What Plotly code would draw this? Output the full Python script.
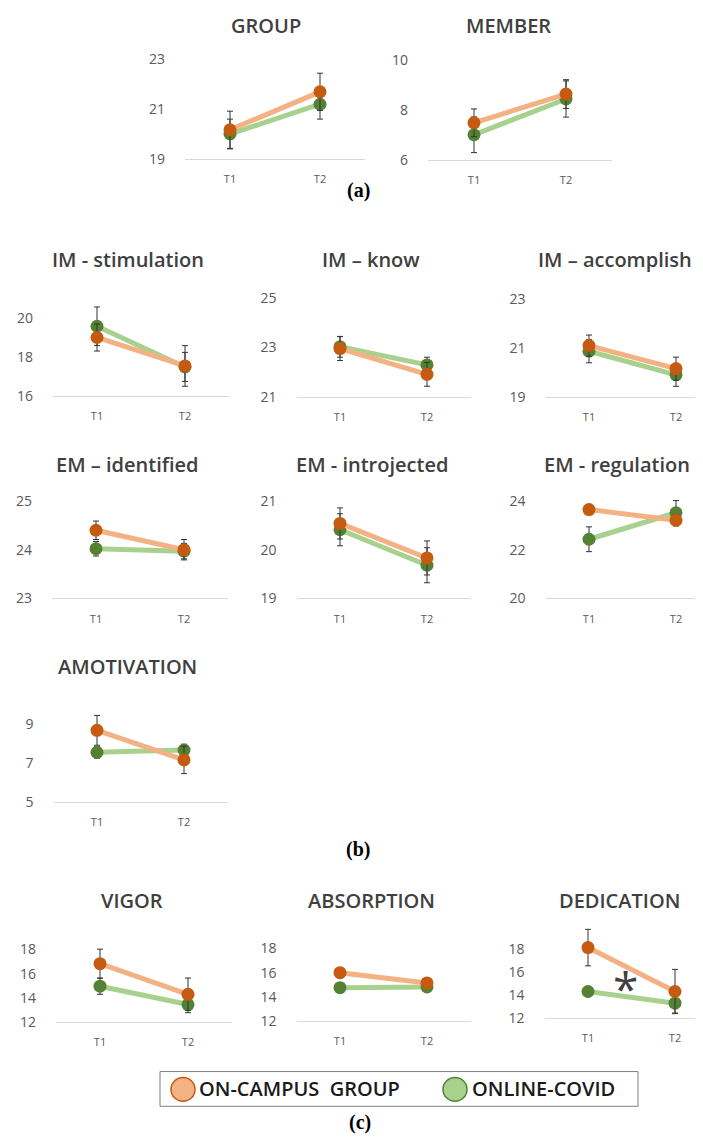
import plotly.graph_objects as go

# ---------------- data ----------------
TITLES = ["GROUP", "MEMBER", "IM - stimulation", "IM – know", "IM – accomplish",
          "EM – identified", "EM - introjected", "EM - regulation", "AMOTIVATION",
          "VIGOR", "ABSORPTION", "DEDICATION"]
TIMES = ["T1", "T2"]
SERIES_NAMES = ["ON-CAMPUS  GROUP", "ONLINE-COVID"]
ON_CAMPUS = [[20.17, 21.70], [7.49, 8.65], [19.02, 17.55], [22.95, 21.91], [21.09, 20.15],
             [24.40, 24.00], [20.54, 19.83], [23.65, 23.21], [8.69, 7.16],
             [16.83, 14.29], [16.00, 15.15], [18.17, 14.32]]
ON_CAMPUS_ERR = [[0.75, 0.75], [0.56, 0.58], [0.70, 1.05], [0.48, 0.48], [0.43, 0.47],
                 [0.19, 0.21], [0.32, 0.35], [0.15, 0.23], [0.77, 0.71],
                 [1.20, 1.35], [0.30, 0.30], [1.60, 1.94]]
ONLINE = [[20.00, 21.20], [7.01, 8.45], [19.60, 17.50], [23.02, 22.29], [20.86, 19.90],
          [24.02, 23.97], [20.41, 19.68], [22.43, 23.52], [7.55, 7.67],
          [14.96, 13.44], [14.76, 14.82], [14.32, 13.30]]
ONLINE_ERR = [[0.60, 0.60], [0.72, 0.73], [1.00, 0.75], [0.42, 0.31], [0.47, 0.47],
              [0.15, 0.16], [0.33, 0.36], [0.51, 0.50], [0.30, 0.30],
              [0.67, 0.67], [0.25, 0.25], [0.30, 0.87]]
YTICKS = [[19, 21, 23], [6, 8, 10], [16, 18, 20], [21, 23, 25], [19, 21, 23],
          [23, 24, 25], [19, 20, 21], [20, 22, 24], [5, 7, 9],
          [12, 14, 16, 18], [12, 14, 16, 18], [12, 14, 16, 18]]
PANEL_LABELS = ["(a)", "(b)", "(c)"]
SIGNIF = "*"

# ---------------- layout geometry (pixels) ----------------
W, H = 703, 1143
# (T1 x, T2 x, baseline y, top-tick y)
GEOM = [(222, 312, 152, 52), (466, 558, 153, 53),
        (89, 177, 391, 313), (332, 419, 392, 292), (581, 668, 392, 293),
        (88, 176, 595, 497), (332, 419, 595, 497), (581, 668, 595, 497),
        (89, 176, 800, 722),
        (92, 180, 1022, 949), (332, 419, 1021, 948), (580, 667, 1018, 949)]
TITLE_POS = [(258, 18), (500, 18), (120, 253), (363, 253), (607, 253),
             (119, 460), (364, 460), (609, 460), (119, 664),
             (124, 900), (363, 900), (611, 900)]
LABEL_POS = [(350, 184), (350, 848), (352, 1123)]

ORANGE_LINE, ORANGE_MARK = "#F4B183", "#C55A11"
GREEN_LINE, GREEN_MARK = "#A9D18E", "#548235"
TXT = "#404040"
TICK = "#595959"
FONT = "Open Sans"

def px(x):
    return x / W

def py(y):
    return 1 - y / H

fig = go.Figure()
layout = dict(width=W, height=H, margin=dict(l=0, r=0, t=0, b=0),
              paper_bgcolor="white", plot_bgcolor="rgba(0,0,0,0)",
              showlegend=False)
annotations = []
shapes = []

for i in range(len(TITLES)):
    t1, t2, base, top = GEOM[i]
    d = t2 - t1
    left = t1 - 0.5 * d
    right = min(t2 + 0.5 * d, W)
    xr = 1 + (right - t2) / d
    ymin, ytop = YTICKS[i][0], YTICKS[i][-1]
    ppu = (base - top) / (ytop - ymin)
    ymax = ytop + 0.35 * (ytop - ymin)
    dom_top = base - ppu * (ymax - ymin)
    n = "" if i == 0 else str(i + 1)
    layout["xaxis" + n] = dict(domain=[px(left), px(right)], range=[-0.5, xr],
                               anchor="y" + n, tickvals=[0, 1], ticktext=TIMES,
                               showgrid=False, zeroline=False, showline=True,
                               linecolor="#D9D9D9", linewidth=1, ticks="",
                               ticklabelstandoff=10,
                               tickfont=dict(family=FONT, size=11, color=TICK),
                               fixedrange=True)
    layout["yaxis" + n] = dict(domain=[py(base), py(dom_top)], range=[ymin, ymax],
                               anchor="x" + n, tickvals=YTICKS[i],
                               showgrid=False, zeroline=False, showline=False,
                               ticks="", ticklabelstandoff=19,
                               tickfont=dict(family=FONT, size=14, color=TICK),
                               fixedrange=True)
    for vals, errs, lc, mc in ((ONLINE[i], ONLINE_ERR[i], GREEN_LINE, GREEN_MARK),
                               (ON_CAMPUS[i], ON_CAMPUS_ERR[i], ORANGE_LINE, ORANGE_MARK)):
        fig.add_trace(go.Scatter(
            x=[0, 1], y=vals, mode="lines+markers", xaxis="x" + n, yaxis="y" + n,
            line=dict(color=lc, width=5),
            marker=dict(color=mc, size=13, line=dict(color=mc, width=0)),
            error_y=dict(type="data", array=errs, visible=True,
                         color="#333333", thickness=1, width=3),
            cliponaxis=False))
    tx, ty = TITLE_POS[i]
    annotations.append(dict(x=px(tx), y=py(ty), xref="paper", yref="paper",
                            text=TITLES[i], showarrow=False, xanchor="center",
                            yanchor="middle",
                            font=dict(family=FONT, size=20, color=TXT, weight=600)))

for lab, (lx, ly) in zip(PANEL_LABELS, LABEL_POS):
    annotations.append(dict(x=px(lx), y=py(ly), xref="paper", yref="paper",
                            text="<b>" + lab + "</b>", showarrow=False,
                            xanchor="center", yanchor="middle",
                            font=dict(family="Liberation Serif", size=20, color="black")))

# significance asterisk (DEDICATION)
annotations.append(dict(x=px(617), y=py(988), xref="paper", yref="paper",
                        text=SIGNIF, showarrow=False, xanchor="center", yanchor="middle",
                        font=dict(family=FONT, size=46, color=TXT)))

# legend box
shapes.append(dict(type="rect", xref="paper", yref="paper",
                   x0=px(152), x1=px(630), y0=py(1107), y1=py(1072),
                   line=dict(color="#7F7F7F", width=1), fillcolor="white"))
for name, (cx, tx), fill, edge in ((SERIES_NAMES[0], (175, 189), ORANGE_LINE, ORANGE_MARK),
                                   (SERIES_NAMES[1], (447, 462), GREEN_LINE, GREEN_MARK)):
    r = 12
    shapes.append(dict(type="circle", xref="paper", yref="paper",
                       x0=px(cx - r), x1=px(cx + r), y0=py(1090 + r), y1=py(1090 - r),
                       line=dict(color=edge, width=1.5), fillcolor=fill))
    annotations.append(dict(x=px(tx), y=py(1089), xref="paper", yref="paper",
                            text=name, showarrow=False, xanchor="left", yanchor="middle",
                            font=dict(family=FONT, size=20, color="#1a1a1a", weight=600)))

layout["annotations"] = annotations
layout["shapes"] = shapes
fig.update_layout(**layout)
fig.write_html("out.html")
